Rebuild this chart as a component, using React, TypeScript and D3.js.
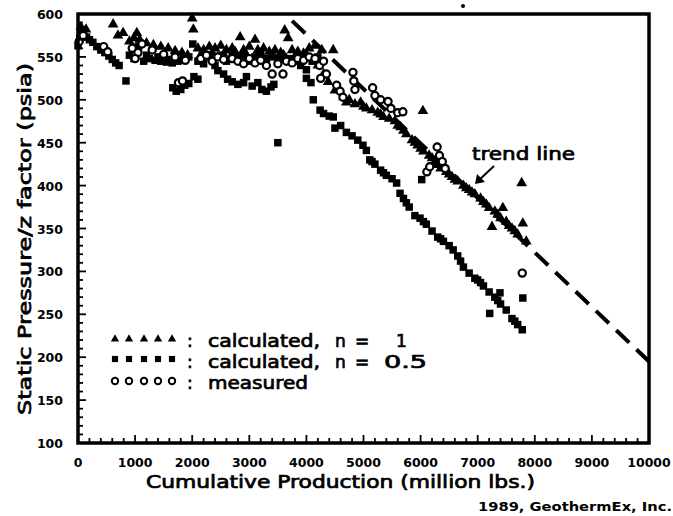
import React from "react";
import * as d3 from "d3";

// ---- data (x: million lbs, y: psia) ----
const triangles: [number, number][] = [
  [50, 585], [140, 582], [615, 588], [700, 575], [790, 578], [1030, 578],
  [900, 568], [980, 572], [1080, 570], [1200, 566], [1320, 564], [1450, 562], [1580, 560], [1700, 557], [1820, 555], [1920, 552],
  [2000, 595], [2020, 582],
  [2100, 560], [2200, 558], [2300, 562], [2400, 560], [2500, 563], [2600, 558], [2700, 560], [2840, 573], [2900, 558], [3000, 562],
  [3100, 570], [3150, 558], [3250, 560], [3350, 556], [3450, 558], [3550, 555], [3620, 581], [3680, 572], [3750, 558], [3850, 556],
  [3950, 554], [4050, 560], [4150, 563], [4270, 558], [4200, 540], [4300, 530], [4380, 521], [4470, 558], [4500, 511],
  [2150, 552], [2350, 555], [2550, 553], [2750, 556], [2950, 552], [3200, 553], [3400, 551], [3600, 552], [3800, 550], [4000, 552],
  [4650, 503], [4750, 500], [4850, 495], [4950, 497], [5050, 490], [5150, 488], [5250, 485], [5350, 480], [5450, 478],
  [5550, 475], [5650, 468], [5750, 460], [5850, 453], [5950, 447], [6040, 487], [6050, 440], [6150, 435], [6250, 428],
  [6350, 420], [6450, 416], [6550, 410], [6650, 405], [6750, 400], [6850, 395], [6950, 390], [7050, 385], [7150, 378],
  [7250, 352], [7300, 370], [7400, 362], [7440, 374], [7500, 358], [7600, 350], [7700, 343], [7770, 403], [7790, 356], [7850, 335],
  [5600, 470], [5900, 450], [6200, 432], [6500, 413], [6800, 397], [7100, 381], [7350, 366], [7650, 347],
  [4700, 497], [5000, 492], [5300, 483], [5700, 464], [6000, 443], [6300, 424], [6600, 407], [6900, 392], [7200, 374], [7550, 353]
];

const squares: [number, number][] = [
  [0, 563], [30, 572], [60, 580], [100, 576], [150, 573], [200, 570], [260, 567], [330, 562], [400, 558], [470, 555], [540, 551],
  [600, 547], [660, 543], [720, 540], [840, 522],
  [900, 552], [980, 548], [1060, 562], [1150, 545], [1250, 548], [1350, 546], [1450, 545], [1550, 544], [1650, 543], [1750, 545],
  [1850, 548], [1940, 550], [1660, 514], [1720, 510], [1800, 512], [1870, 517], [1940, 519], [2010, 565], [2030, 527],
  [1200, 552], [1400, 550], [1600, 547], [1800, 546],
  [2100, 545], [2200, 542], [2300, 550], [2400, 540], [2500, 552], [2600, 545], [2700, 553], [2800, 550], [2900, 552], [3000, 545],
  [3100, 550], [3200, 553], [3300, 548], [3400, 550], [3500, 548], [3600, 550], [3700, 548], [3800, 545], [3900, 540], [4000, 535],
  [4100, 545], [4200, 550],
  [2100, 524], [2450, 534], [2550, 530], [2620, 524], [2700, 521], [2800, 518], [2900, 520], [2950, 527], [3050, 516], [3150, 520],
  [3220, 512], [3300, 510], [3380, 515], [3430, 518], [3500, 450],
  [4000, 525], [4080, 520], [4120, 500], [4240, 488], [4300, 484], [4400, 481], [4470, 480], [4500, 467],
  [4600, 470], [4700, 462], [4800, 458], [4900, 453], [4990, 447], [5050, 441], [5110, 430], [5200, 425], [5300, 418], [5400, 412],
  [5500, 408], [5580, 403], [5640, 391], [5700, 385], [5800, 375], [5900, 365], [5990, 362], [6020, 407], [6100, 355], [6200, 347],
  [6300, 340], [6400, 335], [6500, 330], [6570, 325], [6650, 318], [6750, 305], [6850, 298], [6950, 292], [7050, 287], [7100, 283],
  [7200, 276], [7210, 251], [7300, 270], [7390, 275], [7400, 262], [7500, 255], [7600, 245], [7700, 238], [7780, 232], [7790, 269],
  [5150, 428], [5350, 415], [5750, 380], [6050, 358], [6350, 338], [6700, 312], [7000, 290], [7350, 266], [7650, 242]
];

const circles: [number, number][] = [
  [20, 568], [90, 575], [450, 562], [520, 556],
  [950, 560], [1050, 555], [1120, 565], [1000, 548], [1300, 558], [1500, 553], [1700, 550], [1880, 546], [1760, 520], [1830, 522],
  [2150, 548], [2250, 552], [2350, 545], [2450, 550], [2550, 547], [2700, 548], [2800, 545], [2900, 542], [3000, 548], [3100, 543],
  [3200, 546], [3300, 540], [3400, 530], [3500, 542], [3590, 530], [3650, 545], [3750, 543], [3850, 548], [3950, 546], [4050, 550],
  [4150, 548], [4230, 540], [4300, 545], [4350, 530], [4250, 525],
  [4530, 517], [4590, 510], [4640, 503], [4815, 532], [4830, 522], [4850, 512], [5160, 514], [5200, 505], [5300, 500], [5430, 498],
  [5480, 490], [5600, 485], [5690, 486], [6110, 416], [6160, 422], [6290, 445], [6330, 435], [6380, 428], [6430, 420], [7780, 298]
];

const trendLine: [number, number][] = [[3750, 592], [10000, 195]];

const xTicks = [0, 1000, 2000, 3000, 4000, 5000, 6000, 7000, 8000, 9000, 10000];
const yTicks = [100, 150, 200, 250, 300, 350, 400, 450, 500, 550, 600];

export default function App() {
  const x = d3.scaleLinear().domain([0, 10000]).range([78, 649]);
  const y = d3.scaleLinear().domain([100, 600]).range([443, 14]);
  const tri = d3.symbol(d3.symbolTriangle, 50)()!;
  const sq = d3.symbol(d3.symbolSquare, 56)()!;
  const triL = d3.symbol(d3.symbolTriangle, 30)()!;
  const sqL = d3.symbol(d3.symbolSquare, 38)()!;
  const line = d3.line<[number, number]>().x(d => x(d[0])).y(d => y(d[1]));
  const font = "DejaVu Sans, Verdana, sans-serif";
  const minorX = d3.range(0, 10001, 200);
  const minorY = d3.range(100, 601, 10);
  const legendX = [115, 129, 144, 158, 172];

  return (
    <svg width={673} height={516} style={{ position: "absolute", left: 0, top: 0, background: "#fff" }} fontFamily={font}>
      <rect x={0} y={0} width={673} height={516} fill="#fff" />
      {/* trend line */}
      <path d={line(trendLine)!} fill="none" stroke="#000" strokeWidth={4} strokeDasharray="18 10" />
      {/* data */}
      {squares.map((d, i) => (
        <path key={"s" + i} d={sq} transform={`translate(${x(d[0])},${y(d[1])})`} fill="#000" />
      ))}
      {triangles.map((d, i) => (
        <path key={"t" + i} d={tri} transform={`translate(${x(d[0])},${y(d[1])})`} fill="#000" />
      ))}
      {circles.map((d, i) => (
        <circle key={"c" + i} cx={x(d[0])} cy={y(d[1])} r={3.6} fill="#fff" stroke="#000" strokeWidth={2.2} />
      ))}
      {/* frame */}
      <rect x={78} y={14} width={571} height={429} fill="none" stroke="#000" strokeWidth={3.5} />
      {/* minor/major ticks */}
      {minorX.map(v => (
        <line key={"mx" + v} x1={x(v)} x2={x(v)} y1={443} y2={443 - (v % 1000 === 0 ? 8 : 5)} stroke="#000" strokeWidth={1.8} />
      ))}
      {minorY.map(v => (
        <line key={"my" + v} x1={78} x2={78 + (v % 50 === 0 ? 8 : 5)} y1={y(v)} y2={y(v)} stroke="#000" strokeWidth={1.8} />
      ))}
      {xTicks.map(v => (
        <text key={"xt" + v} x={x(v)} y={467} textAnchor="middle" fontSize={12.5} fontWeight="bold">{v}</text>
      ))}
      {yTicks.map(v => (
        <text key={"yt" + v} x={63} y={y(v) + 5} textAnchor="end" fontSize={12.5} fontWeight="bold">{v}</text>
      ))}
      {/* axis titles */}
      <g stroke="#000" strokeWidth={0.7}>
        <text x={146} y={488} fontSize={17} textLength={389} lengthAdjust="spacingAndGlyphs">Cumulative  Production  (million  lbs.)</text>
        <text transform="translate(31,415) rotate(-90)" fontSize={17} textLength={352} lengthAdjust="spacingAndGlyphs">Static  Pressure/z  factor  (psia)</text>
        <text x={472} y={160} fontSize={17} textLength={103} lengthAdjust="spacingAndGlyphs">trend  line</text>
      </g>
      <line x1={494} y1={166} x2={478} y2={181} stroke="#000" strokeWidth={2} />
      <path d="M475,184 L477,174 L485,182 Z" fill="#000" />
      {/* legend */}
      {legendX.map((lx, i) => (
        <g key={"lg" + i}>
          <path d={triL} transform={`translate(${lx},339)`} fill="#000" />
          <path d={sqL} transform={`translate(${lx},359)`} fill="#000" />
          <circle cx={lx} cy={381} r={3.2} fill="#fff" stroke="#000" strokeWidth={2} />
        </g>
      ))}
      <g fontSize={17} stroke="#000" strokeWidth={0.7}>
        <text x={187} y={347}>:</text>
        <text x={187} y={368}>:</text>
        <text x={187} y={389}>:</text>
        <text x={208} y={347} textLength={112} lengthAdjust="spacingAndGlyphs">calculated,</text>
        <text x={335} y={347}>n</text>
        <text x={355} y={347}>=</text>
        <text x={396} y={347}>1</text>
        <text x={208} y={368} textLength={112} lengthAdjust="spacingAndGlyphs">calculated,</text>
        <text x={335} y={368}>n</text>
        <text x={355} y={368}>=</text>
        <text x={384} y={368} textLength={43} lengthAdjust="spacingAndGlyphs">0.5</text>
        <text x={208} y={389} textLength={100} lengthAdjust="spacingAndGlyphs">measured</text>
      </g>
      <text x={672} y={511} textAnchor="end" fontSize={12.5} fontWeight="bold" textLength={194} lengthAdjust="spacingAndGlyphs">1989,  GeothermEx,  Inc.</text>
      <circle cx={463} cy={6} r={2} fill="#000" />
    </svg>
  );
}
